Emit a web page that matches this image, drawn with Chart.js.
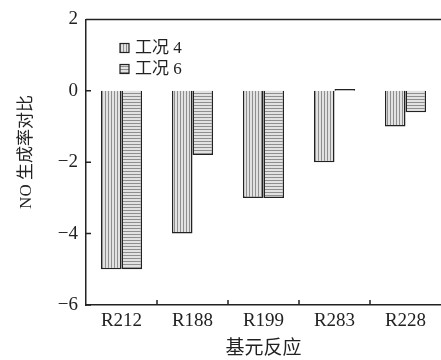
<!DOCTYPE html>
<html lang="zh">
<head>
    <meta charset="UTF-8">
    <title>NO 生成率对比</title>
    <script src="https://cdn.jsdelivr.net/npm/chart.js"></script>
    <style>
        html, body {
            margin: 0;
            padding: 0;
            background: #fff;
        }
        #wrap {
            width: 441px;
            height: 360px;
        }
    </style>
</head>
<body>
    <div id="wrap"><canvas id="chart" width="441" height="360"></canvas></div>
    <script>
        /* данные */
        const reactions = ['R212', 'R188', 'R199', 'R283', 'R228'];
        const case4 = [-5, -4, -3, -2, -1];
        const case6 = [-5, -1.8, -3, 0.05, -0.6];
        const seriesNames = ['工况 4', '工况 6'];
        const yTicks = [-6, -4, -2, 0, 2];
        const yTitle = 'NO 生成率对比';

        const serif = '"Liberation Serif", "Noto Sans CJK SC", serif';

        /* штриховка */
        function makePattern(vertical) {
            const c = document.createElement('canvas');
            c.width = 3;
            c.height = 3;
            const g = c.getContext('2d');
            g.fillStyle = '#e2e2e2';
            g.fillRect(0, 0, 3, 3);
            g.fillStyle = '#8f8f8f';
            if (vertical) g.fillRect(0, 0, 1, 3);
            else g.fillRect(0, 0, 3, 1);
            return g.createPattern(c, 'repeat');
        }
        const vPat = makePattern(true);
        const hPat = makePattern(false);

        /* рамка сверху, внутренние риски, легенда, подпись оси Y */
        const decor = {
            id: 'decor',
            afterDraw(chart) {
                const ctx = chart.ctx;
                const a = chart.chartArea;
                const y = chart.scales.y;
                const x = chart.scales.x;
                ctx.save();
                ctx.strokeStyle = '#222';
                ctx.lineWidth = 1.5;
                ctx.beginPath();
                ctx.moveTo(a.left, a.top);
                ctx.lineTo(a.right, a.top);
                yTicks.forEach(v => {
                    const py = y.getPixelForValue(v);
                    ctx.moveTo(a.left, py);
                    ctx.lineTo(a.left + 5, py);
                });
                for (let i = 1; i < reactions.length; i++) {
                    const px = (x.getPixelForValue(i - 1) + x.getPixelForValue(i)) / 2;
                    ctx.moveTo(px, a.bottom);
                    ctx.lineTo(px, a.bottom - 5);
                }
                ctx.stroke();

                /* легенда */
                const pats = [vPat, hPat];
                const rows = [48, 69];
                ctx.font = '17px ' + serif;
                ctx.textBaseline = 'middle';
                rows.forEach((ry, i) => {
                    ctx.fillStyle = pats[i];
                    ctx.fillRect(120, ry - 4.5, 9, 9);
                    ctx.lineWidth = 1.2;
                    ctx.strokeRect(120, ry - 4.5, 9, 9);
                    ctx.fillStyle = '#222';
                    ctx.fillText(seriesNames[i], 135, ry + 1);
                });

                /* подпись оси Y */
                ctx.translate(27, 152);
                ctx.rotate(-Math.PI / 2);
                ctx.textAlign = 'center';
                ctx.font = '17px ' + serif;
                ctx.fillStyle = '#222';
                ctx.fillText(yTitle, 0, 0);
                ctx.restore();
            }
        };

        new Chart(document.getElementById('chart'), {
            type: 'bar',
            data: {
                labels: reactions,
                datasets: [{
                    label: seriesNames[0],
                    data: case4,
                    backgroundColor: vPat,
                    borderColor: '#222',
                    borderWidth: 1.5
                }, {
                    label: seriesNames[1],
                    data: case6,
                    backgroundColor: hPat,
                    borderColor: '#222',
                    borderWidth: 1.5
                }]
            },
            options: {
                responsive: false,
                animation: false,
                layout: {
                    padding: { top: 17, right: 0, left: 0, bottom: 0 }
                },
                plugins: {
                    legend: { display: false },
                    tooltip: { enabled: false }
                },
                datasets: {
                    bar: {
                        categoryPercentage: 0.58,
                        barPercentage: 1
                    }
                },
                scales: {
                    x: {
                        grid: { display: false, drawTicks: false },
                        border: { display: true, color: '#222', width: 1.5 },
                        ticks: {
                            color: '#222',
                            padding: 5,
                            maxRotation: 0,
                            font: { family: serif, size: 19 }
                        },
                        title: {
                            display: true,
                            text: '基元反应',
                            color: '#222',
                            padding: { top: 0, bottom: 0 },
                            font: { family: serif, size: 19 }
                        },
                        afterFit(scale) { scale.height = 55; }
                    },
                    y: {
                        min: -6,
                        max: 2,
                        grid: { display: false, drawTicks: false },
                        border: { display: true, color: '#222', width: 1.5 },
                        afterBuildTicks(scale) {
                            scale.ticks = yTicks.map(v => ({ value: v }));
                        },
                        ticks: {
                            color: '#222',
                            padding: 8,
                            font: { family: serif, size: 19 },
                            callback: v => (v < 0 ? '\u2212' + Math.abs(v) : String(v))
                        },
                        afterFit(scale) { scale.width = 86; }
                    }
                }
            },
            plugins: [decor]
        });
    </script>
</body>
</html>
